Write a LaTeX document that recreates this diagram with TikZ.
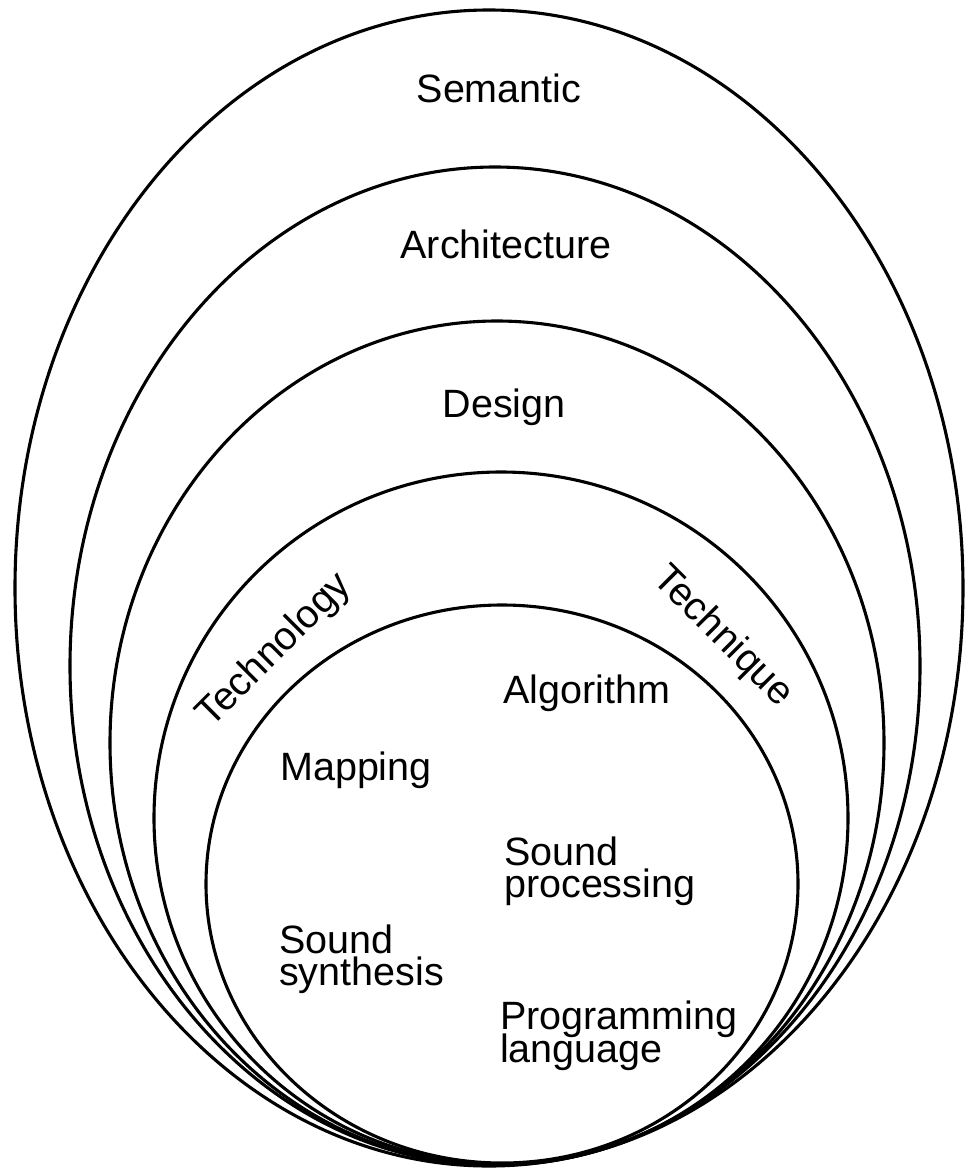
\documentclass[tikz,border=0pt]{standalone}
\usepackage{fontspec}
\setmainfont{Liberation Sans}
\begin{document}
\begin{tikzpicture}[x=1pt,y=-1pt,
  ring/.style={line width=3.1pt},
  lab/.style={font=\fontsize{39.5}{32.5}\selectfont, inner sep=0pt, anchor=base},
  labl/.style={lab, anchor=base west}]
\useasboundingbox (0,0) rectangle (966,1172);
% nested ellipses
\draw[ring] (489,588) ellipse [x radius=474pt, y radius=578pt];
\draw[ring] (495,666) ellipse [x radius=425pt, y radius=499pt];
\draw[ring] (497,743) ellipse [x radius=387pt, y radius=422pt];
\draw[ring] (501,818) ellipse [x radius=347pt, y radius=346pt];
\draw[ring] (502,884) ellipse [x radius=296pt, y radius=279pt];
% ring labels
\node[lab] (sem) at (499,102) {Semantic};
\node[lab] (arch) at (506,258) {Architecture};
\node[lab] (des) at (504,417) {Design};
\node[lab, rotate=45] (tech) at (282,658) {Technology};
\node[lab, rotate=-45] (techn) at (715,644) {Technique};
% inner labels
\node[labl] (alg) at (503,703) {Algorithm};
\node[labl] (map) at (280,780) {Mapping};
\node[labl] (sp1) at (504,865) {Sound};
\node[labl] (sp2) at (504,897) {processing};
\node[labl] (ss1) at (279,953) {Sound};
\node[labl] (ss2) at (279,985) {synthesis};
\node[labl] (pl1) at (500,1029) {Programming};
\node[labl] (pl2) at (500,1062) {language};
\end{tikzpicture}
\end{document}
